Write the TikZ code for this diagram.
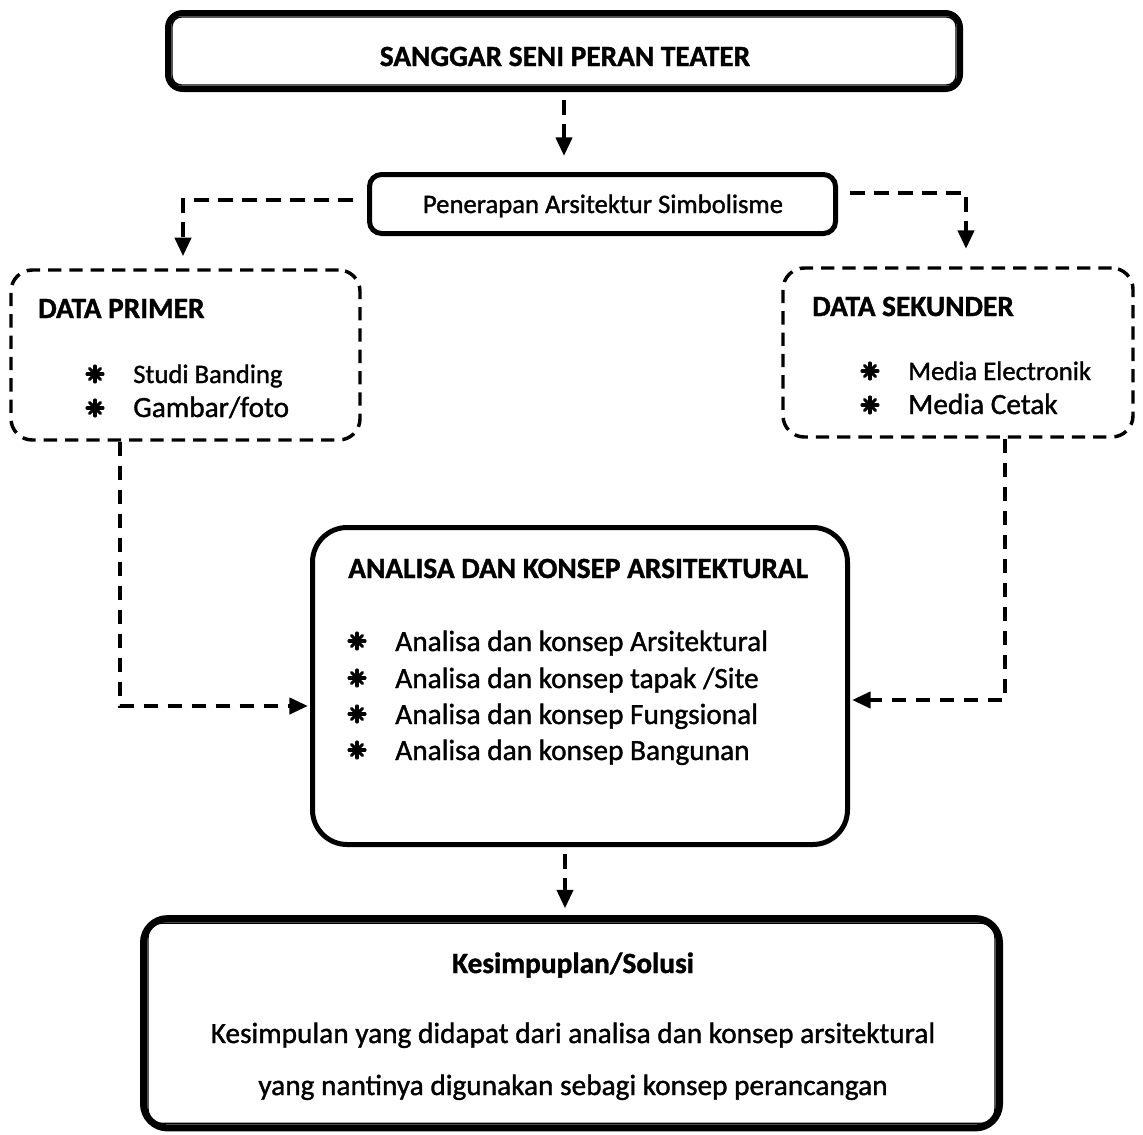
\documentclass[tikz,border=0pt]{standalone}
\usepackage{fontspec}
\setmainfont{Carlito}[FakeBold=1.2]
\usetikzlibrary{arrows.meta}

\begin{document}
\begin{tikzpicture}[x=0.75pt,y=-0.75pt,
  framebox/.style={draw, line width=4.5pt, rounded corners=11pt, inner sep=0pt},
  heavybox/.style={draw, line width=3.75pt, inner sep=0pt},
  dashbox/.style={draw, line width=2.6pt, dash pattern=on 10pt off 6pt, rounded corners=16pt, inner sep=0pt},
  innerline/.style={line width=1.1pt},
  conn/.style={line width=3.2pt, dash pattern=on 11pt off 7pt, -{Triangle[width=12pt,length=14pt]}},
  title/.style={font=\bfseries\fontsize{22}{26}\selectfont, inner sep=0pt},
  item/.style={font=\fontsize{22}{26}\selectfont, inner sep=0pt, anchor=base west},
  itemsm/.style={font=\fontsize{20}{24}\selectfont, inner sep=0pt, anchor=base west},
  body/.style={font=\fontsize{22}{26}\selectfont, inner sep=0pt, anchor=base},
  ast/.pic={\foreach \a in {0,45,...,315} \draw[line width=2.3pt, line cap=round] (0,0) -- (\a:8);
            \fill (0,0) circle (3.5);}
]
\useasboundingbox (0,0) rectangle (1143,1135);

% ---- boxes ----
\node[framebox, minimum width=594pt, minimum height=57pt] (top) at (564,51) {};
\draw[innerline, rounded corners=7pt] ([shift={(7,7)}]top.north west) rectangle ([shift={(-7,-7)}]top.south east);

\node[heavybox, rounded corners=9pt, minimum width=349.5pt, minimum height=44.25pt] (pen) at (602.5,204) {};

\node[dashbox, minimum width=261.75pt, minimum height=127.5pt] (dp) at (185.5,355) {};
\node[dashbox, minimum width=262.5pt, minimum height=126.75pt] (ds) at (958,352.5) {};

\node[heavybox, rounded corners=26pt, minimum width=401.25pt, minimum height=237.75pt] (mid) at (580,686) {};

\node[framebox, line width=5.25pt, rounded corners=18pt, minimum width=642pt, minimum height=157pt] (bot) at (571.5,1023.25) {};
\draw[innerline, rounded corners=11pt] ([shift={(8,8)}]bot.north west) rectangle ([shift={(-8,-8)}]bot.south east);

% ---- texts ----
\node[title, anchor=base] (topT) at (565,66) {SANGGAR SENI PERAN TEATER};
\node[font=\fontsize{20}{24}\selectfont, inner sep=0pt, anchor=base] (penT) at (603,213) {Penerapan Arsitektur Simbolisme};

\node[title, anchor=base west] (dpT) at (38,318) {DATA PRIMER};
\node[itemsm] (dp1) at (133,383) {Studi Banding};
\node[item] (dp2) at (133,417) {Gambar/foto};
\pic at (95,374) {ast};
\pic at (95,408) {ast};

\node[title, anchor=base west] (dsT) at (812,316) {DATA SEKUNDER};
\node[itemsm] (ds1) at (908,380) {Media Electronik};
\node[item] (ds2) at (908,414) {Media Cetak};
\pic at (870,371) {ast};
\pic at (870,405) {ast};

\node[title, anchor=base west] (midT) at (348,578) {ANALISA DAN KONSEP ARSITEKTURAL};
\node[item] (m1) at (395,651) {Analisa dan konsep Arsitektural};
\node[item] (m2) at (395,688) {Analisa dan konsep tapak /Site};
\node[item] (m3) at (395,724) {Analisa dan konsep Fungsional};
\node[item] (m4) at (395,760) {Analisa dan konsep Bangunan};
\pic at (357,641) {ast};
\pic at (357,678) {ast};
\pic at (357,714) {ast};
\pic at (357,750) {ast};

\node[title, anchor=base] (botT) at (573,973) {Kesimpuplan/Solusi};
\node[body] (b1) at (573,1043) {Kesimpulan yang didapat dari analisa dan konsep arsitektural};
\node[body] (b2) at (573,1095) {yang nantinya digunakan sebagi konsep perancangan};

% ---- connectors ----
\draw[conn, shorten <=6pt, shorten >=12pt] (top.south) -- (top.south |- pen.north);
\draw[conn, shorten >=9pt] ([shift={(-14,-4)}]pen.west) -| ([shift={(-2.5,0)}]dp.north);
\draw[conn, shorten >=13pt] ([shift={(12,-11)}]pen.east) -| ([shift={(8,0)}]ds.north);
\draw[conn, shorten >=1.5pt] ([shift={(-65.5,0)}]dp.south) |- ([shift={(0,20)}]mid.west);
\draw[conn, shorten >=1.5pt] ([shift={(47,0)}]ds.south) |- ([shift={(0,14)}]mid.east);
\coordinate (mdrop) at ([shift={(-15,0)}]mid.south);
\draw[conn, shorten <=5.6pt, shorten >=5pt] (mdrop) -- (mdrop |- bot.north);
\end{tikzpicture}
\end{document}
